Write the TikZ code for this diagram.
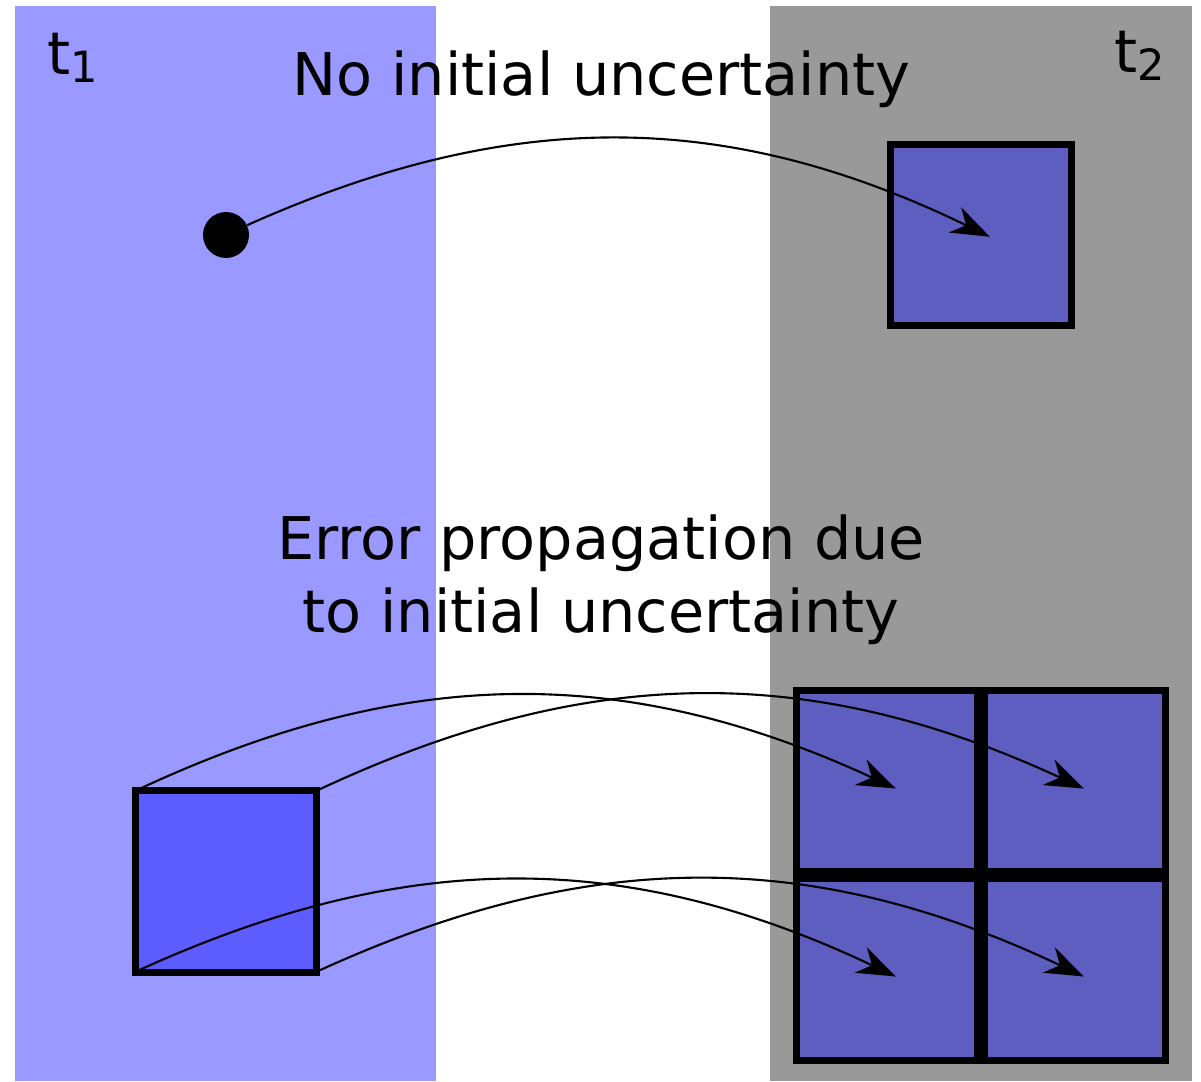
\documentclass[tikz,border=0pt]{standalone}
\usepackage{fontspec}
\setmainfont{DejaVu Sans}
\usetikzlibrary{arrows.meta, positioning}
\definecolor{bandBlue}{HTML}{9999FF}
\definecolor{bandGrey}{HTML}{999999}
\definecolor{boxBlue}{HTML}{5C5CFF}
\definecolor{boxSlate}{HTML}{5E5EC0}

\begin{document}
\begin{tikzpicture}[font=\fontsize{33.5}{41.5}\selectfont,
  box/.style={draw=black, line width=0.14cm, fill=boxSlate, minimum size=3.62cm,
              inner sep=0pt, outer sep=0pt},
  flow/.style={-{Stealth[length=22pt, width=16pt, inset=7pt]}, line width=1.2pt},
  node distance=0.14cm]
  \useasboundingbox (0,0) rectangle (24.02,21.62);
  % time bands
  \fill[bandBlue] (0.30,0) rectangle (8.72,21.50);
  \fill[bandGrey] (15.40,0) rectangle (23.84,21.50);
  \node[anchor=base west, inner sep=0pt] (tOne) at (0.94,20.12)
    {t\raisebox{-4pt}{\fontsize{24.5}{0}\selectfont 1}};
  \node[anchor=base east, inner sep=0pt] (tTwo) at (23.30,20.16)
    {t\raisebox{-4pt}{\fontsize{24.5}{0}\selectfont 2}};
  \node[anchor=base, inner sep=0pt] (capA) at (12.03,19.71) {No initial uncertainty};
  \node[align=center, inner sep=0pt] (capB) at (12.02,10.02)
    {Error propagation due\\to initial uncertainty};
  % exact start
  \node[circle, fill=black, minimum size=0.92cm, inner sep=0pt] (pt) at (4.52,16.92) {};
  \node[box] (out) at (19.62,16.92) {};
  \draw[flow] (pt) to[bend left=25] ([xshift=5pt,yshift=-1pt]out.center);
  % uncertain start, split into four cells
  \node[box, fill=boxBlue] (src) at (4.51,3.99) {};
  \node[box] (r11) at (17.74,5.99) {};
  \node[box, right=of r11] (r12) {};
  \node[box, below=of r11] (r21) {};
  \node[box, below=of r12] (r22) {};
  \foreach \c/\t in {north west/r11, north east/r12, south west/r21, south east/r22}
    \draw[flow] (src.\c) to[bend left=25] ([xshift=5pt,yshift=-4pt]\t.center);
\end{tikzpicture}
\end{document}
